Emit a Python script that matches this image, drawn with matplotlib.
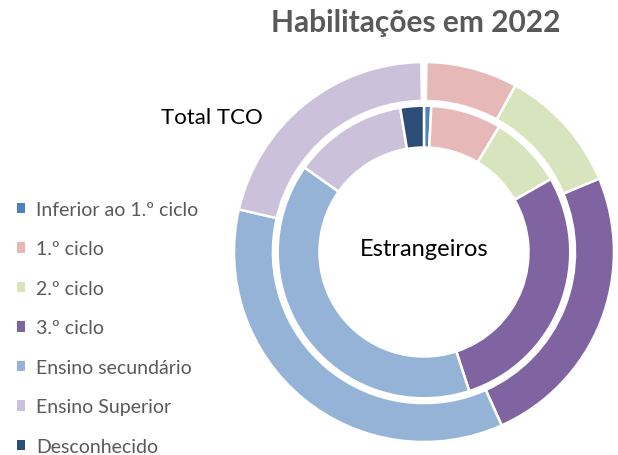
import matplotlib
matplotlib.use("Agg")
import matplotlib.pyplot as plt
from matplotlib.patches import Patch

plt.rcParams['font.family'] = ['Lato', 'DejaVu Sans']

categories = ["Inferior ao 1.º ciclo", "1.º ciclo", "2.º ciclo", "3.º ciclo",
              "Ensino secundário", "Ensino Superior", "Desconhecido"]
total_tco = [0.2, 7.8, 10.7, 24.6, 35.3, 21.2, 0.2]
estrangeiros = [0.8, 7.8, 8.1, 28.3, 39.8, 12.6, 2.6]
colors = ["#4F81BD", "#E6B9B8", "#D7E4BD", "#8064A2", "#95B3D7", "#CCC1DA", "#2C4D75"]

fig = plt.figure(figsize=(6.18, 4.56), dpi=100)
ax = fig.add_axes([0.3786, 0.0285, 0.6149, 0.8333])

wedge_kw = dict(edgecolor="white", linewidth=1.8)
outer, _ = ax.pie(total_tco, radius=1.0, colors=colors, startangle=90,
                  counterclock=False, wedgeprops=dict(width=0.205, **wedge_kw))
inner, _ = ax.pie(estrangeiros, radius=0.77, colors=colors, startangle=90,
                  counterclock=False, wedgeprops=dict(width=0.22, **wedge_kw))
ax.set_xlim(-1, 1)
ax.set_ylim(-1, 1)
ax.set_aspect("equal")

ax.text(0, 0.02, "Estrangeiros", ha="center", va="center", fontsize=17, color="#000000")
fig.text(212 / 618, 1 - 118 / 456, "Total TCO", ha="center", va="center", fontsize=16, color="#000000")
fig.text(416 / 618, 1 - 23 / 456, "Habilitações em 2022", ha="center", va="center",
         fontsize=21.5, fontweight="bold", color="#595959")

handles = [Patch(facecolor=c, edgecolor="none") for c in colors]
leg = fig.legend(handles, categories, loc="upper left", bbox_to_anchor=(7 / 618, 1 - 192 / 456),
                 frameon=False, fontsize=14, labelcolor="#595959", handlelength=0.45,
                 handleheight=0.45, handletextpad=0.55, labelspacing=1.16, borderpad=0)

fig.savefig("out.png", dpi=100)
